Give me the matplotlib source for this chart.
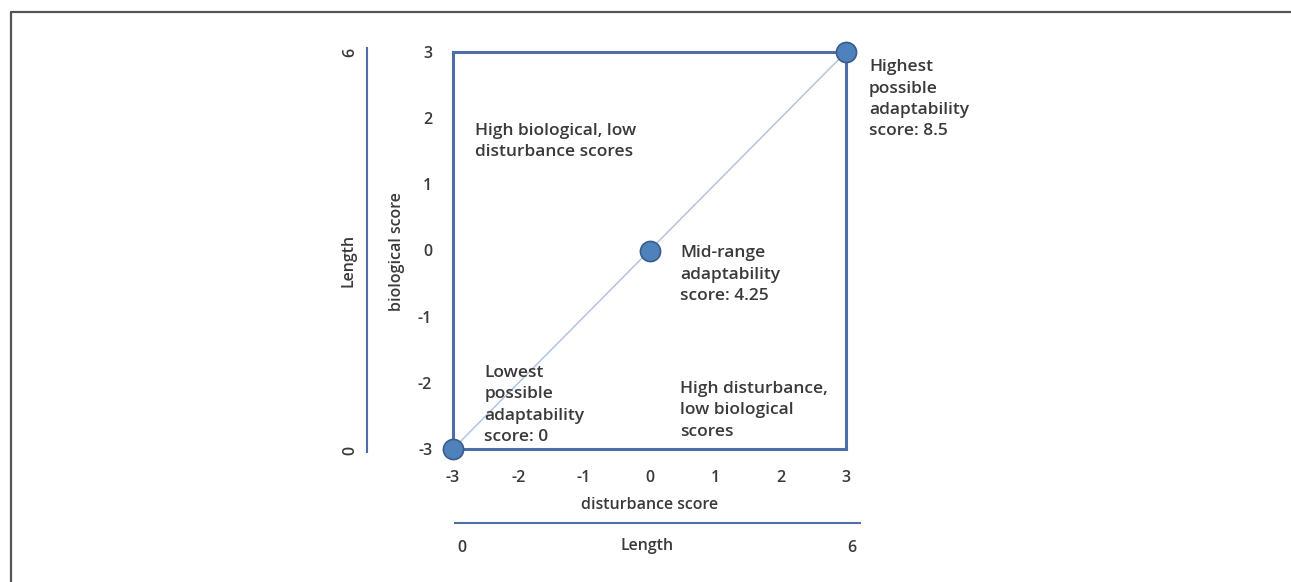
import matplotlib.pyplot as plt
from matplotlib.lines import Line2D

BOX_BLUE = '#4f6ea8'
DOT_FILL = '#4f81bd'
DOT_EDGE = '#385d8a'
DIAG = '#b4c4dc'
TXT = '#3a3a3a'

# scores along the diagonal
disturbance = [-3, 0, 3]
biological = [-3, 0, 3]
ticks = [-3, -2, -1, 0, 1, 2, 3]
length_range = [0, 6]

notes = [
    (-2.67, 1.93, 'High biological, low\ndisturbance scores'),
    (-2.52, -1.73, 'Lowest\npossible\nadaptability\nscore: 0'),
    (0.47, 0.08, 'Mid-range\nadaptability\nscore: 4.25'),
    (0.47, -1.97, 'High disturbance,\nlow biological\nscores'),
    (3.35, 2.89, 'Highest\npossible\nadaptability\nscore: 8.5'),
]

W, H = 1291, 582
fig = plt.figure(figsize=(W / 100, H / 100), dpi=100)
plt.rcParams['font.family'] = ['Open Sans', 'DejaVu Sans']
FS = 11.5
NFS = 12.5

def fx(px):
    return px / W

def fy(py):
    return 1 - py / H

ax = fig.add_axes([fx(453), fy(449), fx(846) - fx(453), fy(52) - fy(449)])
ax.set_xlim(-3, 3)
ax.set_ylim(-3, 3)

ax.plot(disturbance, biological, color=DIAG, lw=1.1, zorder=1)
ax.plot(disturbance, biological, 'o', ms=14.5, mfc=DOT_FILL, mec=DOT_EDGE,
        mew=1.2, clip_on=False, zorder=5)

for s in ax.spines.values():
    s.set_color(BOX_BLUE)
    s.set_linewidth(2.2)

ax.set_xticks(ticks)
ax.set_yticks(ticks)
ax.set_xticklabels([str(t) for t in ticks], fontweight='semibold')
ax.set_yticklabels([str(t) for t in ticks], fontweight='semibold')
ax.tick_params(axis='both', length=0, labelsize=FS, labelcolor=TXT)
ax.tick_params(axis='x', pad=15)
ax.tick_params(axis='y', pad=15)

for x, y, t in notes:
    ax.text(x, y, t, fontsize=NFS, color=TXT, va='top', ha='left',
            linespacing=1.45, fontweight='semibold', clip_on=False)

lab = dict(fontsize=FS, color=TXT, fontweight='semibold')
ax.text(0, -3.85, 'disturbance score', ha='center', va='center', **lab)
fig.text(fx(397), fy(252), 'biological score', rotation=90,
         ha='center', va='center', **lab)

# length scales
fig.add_artist(Line2D([fx(455), fx(860)], [fy(523), fy(523)],
                      color=BOX_BLUE, lw=1.5))
fig.text(fx(462), fy(548), str(length_range[0]), ha='center', va='center', **lab)
fig.text(fx(852), fy(548), str(length_range[1]), ha='center', va='center', **lab)
fig.text(fx(647), fy(546), 'Length', ha='center', va='center', **lab)

fig.add_artist(Line2D([fx(367), fx(367)], [fy(48), fy(452)],
                      color=BOX_BLUE, lw=1.5))
fig.text(fx(350), fy(52), str(length_range[1]), rotation=90,
         ha='center', va='center', **lab)
fig.text(fx(350), fy(450), str(length_range[0]), rotation=90,
         ha='center', va='center', **lab)
fig.text(fx(349), fy(260), 'Length', rotation=90,
         ha='center', va='center', **lab)

# outer frame
fig.add_artist(Line2D([fx(11), fx(11), fx(W)], [0, fy(12), fy(12)],
                      color='#555555', lw=1.6))

fig.savefig('out.png', dpi=100, facecolor='white')
